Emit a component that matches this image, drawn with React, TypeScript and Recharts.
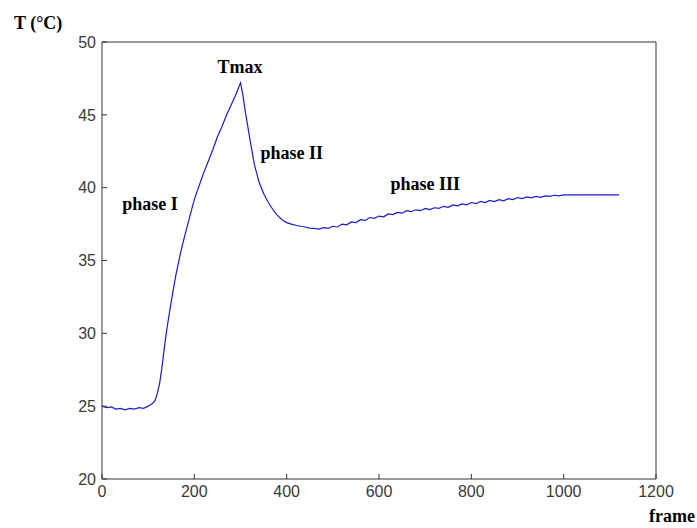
import { LineChart, Line, XAxis, YAxis, ReferenceDot } from 'recharts'

// frame number and temperature
const frames = [
  0, 10, 20, 30, 40, 50, 60, 70, 80, 90, 100, 110, 115, 120, 125, 130, 135, 140, 145, 150, 155, 160,
  170, 180, 190, 200, 210, 220, 230, 240, 250, 260, 270, 280, 290, 300, 305, 310, 320, 330, 340, 350,
  360, 370, 380, 390, 400, 410, 420, 430, 440, 450, 460, 470, 480, 490, 500, 510, 520, 530, 540, 550,
  560, 570, 580, 590, 600, 610, 620, 630, 640, 650, 660, 670, 680, 690, 700, 710, 720, 730, 740, 750,
  760, 770, 780, 790, 800, 810, 820, 830, 840, 850, 860, 870, 880, 890, 900, 910, 920, 930, 940, 950,
  960, 970, 980, 990, 1000, 1120,
]
const temps = [
  25.0, 24.9, 24.95, 24.8, 24.85, 24.75, 24.85, 24.8, 24.9, 24.85, 25.0, 25.2, 25.4, 25.9, 26.6, 27.7,
  29.0, 30.2, 31.2, 32.2, 33.1, 34.0, 35.5, 36.8, 38.0, 39.2, 40.1, 41.0, 41.8, 42.6, 43.5, 44.2, 45.0,
  45.7, 46.4, 47.2, 46.4, 45.3, 43.4, 41.6, 40.4, 39.6, 39.0, 38.5, 38.1, 37.8, 37.6, 37.5, 37.42, 37.35,
  37.3, 37.22, 37.2, 37.15, 37.25, 37.2, 37.35, 37.3, 37.5, 37.45, 37.65, 37.6, 37.8, 37.75, 37.95, 37.9,
  38.05, 38.0, 38.2, 38.15, 38.3, 38.25, 38.42, 38.35, 38.48, 38.42, 38.58, 38.5, 38.62, 38.58, 38.72,
  38.65, 38.82, 38.75, 38.88, 38.82, 38.98, 38.9, 39.05, 38.98, 39.12, 39.05, 39.18, 39.1, 39.24, 39.18,
  39.32, 39.25, 39.36, 39.3, 39.4, 39.34, 39.44, 39.4, 39.48, 39.44, 39.5, 39.5,
]

const xTicks = [0, 200, 400, 600, 800, 1000, 1200]
const yTicks = [20, 25, 30, 35, 40, 45, 50]

// annotation text and where it sits (frame, T)
const notes = [
  { text: 'Tmax', frame: 299, t: 48.3 },
  { text: 'phase I', frame: 104, t: 38.9 },
  { text: 'phase II', frame: 411, t: 42.4 },
  { text: 'phase III', frame: 700, t: 40.3 },
]

const data = frames.map((f, i) => ({ frame: f, t: temps[i] }))

const axisColor = '#333333'
const tickFont = { fill: '#3a3a3a', fontSize: 16, fontFamily: 'Liberation Sans, Arial, sans-serif' }
const serif = 'Liberation Serif, Times New Roman, serif'

export default function App() {
  return (
    <div style={{ position: 'absolute', left: 0, top: 0, background: '#fff' }}>
      <LineChart width={697} height={528} data={data} margin={{ top: 41, right: 40, left: 0, bottom: 0 }}>
        <XAxis
          dataKey="frame"
          type="number"
          domain={[0, 1200]}
          ticks={xTicks}
          height={49}
          tick={tickFont}
          tickSize={-5}
          tickMargin={12}
          stroke={axisColor}
          label={{
            content: ({ viewBox }: any) => (
              <text
                x={viewBox.x + viewBox.width + 39}
                y={viewBox.y + 43}
                textAnchor="end"
                fontFamily={serif}
                fontWeight="bold"
                fontSize={18}
                fill="#000"
              >
                frame
              </text>
            ),
          }}
        />
        <XAxis
          xAxisId="top"
          orientation="top"
          dataKey="frame"
          type="number"
          domain={[0, 1200]}
          ticks={xTicks}
          height={1}
          tick={false}
          tickSize={-5}
          stroke={axisColor}
        />
        <YAxis
          type="number"
          domain={[20, 50]}
          ticks={yTicks}
          width={102}
          tick={tickFont}
          tickSize={-5}
          tickMargin={11}
          stroke={axisColor}
          label={{
            content: ({ viewBox }: any) => (
              <text
                x={viewBox.x + 14}
                y={viewBox.y - 13}
                fontFamily={serif}
                fontWeight="bold"
                fontSize={18}
                fill="#000"
              >
                T (°C)
              </text>
            ),
          }}
        />
        <YAxis
          yAxisId="right"
          orientation="right"
          type="number"
          domain={[20, 50]}
          ticks={yTicks}
          width={1}
          tick={false}
          tickSize={-5}
          stroke={axisColor}
        />
        {/* invisible copy so the box axes on top and right get drawn */}
        <Line
          xAxisId="top"
          yAxisId="right"
          type="linear"
          dataKey="t"
          stroke="none"
          dot={false}
          activeDot={false}
          isAnimationActive={false}
        />
        <Line
          type="linear"
          dataKey="t"
          stroke="#1c1cc4"
          strokeWidth={1.2}
          dot={false}
          isAnimationActive={false}
        />
        {notes.map((n) => (
          <ReferenceDot
            key={n.text}
            x={n.frame}
            y={n.t}
            r={0}
            fill="none"
            stroke="none"
            label={{
              value: n.text,
              position: 'center',
              fontFamily: serif,
              fontWeight: 'bold',
              fontSize: 18,
              fill: '#000',
            }}
          />
        ))}
      </LineChart>
    </div>
  )
}
